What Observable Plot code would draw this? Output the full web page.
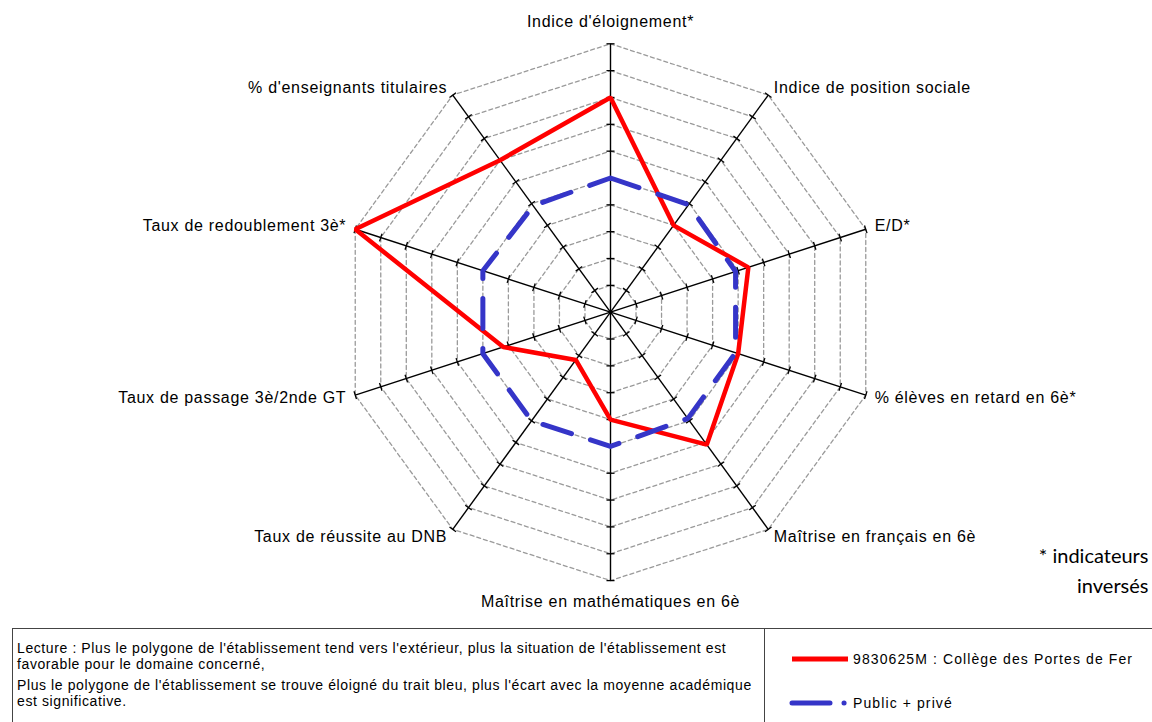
<!DOCTYPE html>
<html>
<head>
<meta charset="utf-8">
<script src="https://cdn.jsdelivr.net/npm/d3@7"></script>
<script src="https://cdn.jsdelivr.net/npm/@observablehq/plot@0.6"></script>
<style>
  html, body { margin: 0; padding: 0; background: #fff; width: 1152px; height: 722px; overflow: hidden; }
  #chart { position: absolute; left: 0; top: 0; }
  #chart text { letter-spacing: 0.7px; }
  #box { position: absolute; left: 12px; top: 628px; width: 1160px; height: 110px; border: 1.5px solid #444; display: flex; box-sizing: border-box; }
  #lecture { width: 752px; border-right: 1.5px solid #444; box-sizing: border-box; padding: 11px 0 0 4px; font-family: "Liberation Sans", Arial, sans-serif; font-size: 14px; letter-spacing: 0.6px; color: #000; white-space: nowrap; }
  #lecture div { height: 16px; line-height: 16px; }
  #lecture div.gap { margin-top: 5px; }
  #legend { flex: 1; font-family: "Liberation Sans", Arial, sans-serif; font-size: 14px; letter-spacing: 1.1px; color: #000; position: relative; white-space: nowrap; }
  .item { position: absolute; left: 24px; display: flex; align-items: center; }
  .item svg { margin-right: 2px; }
</style>
</head>
<body>
<div id="chart"></div>
<div id="box">
  <div id="lecture"></div>
  <div id="legend"></div>
</div>
<script>
// ---- data ----
const indicators = [
  "Indice d'éloignement*",
  "Indice de position sociale",
  "E/D*",
  "% élèves en retard en 6è*",
  "Maîtrise en français en 6è",
  "Maîtrise en mathématiques en 6è",
  "Taux de réussite au DNB",
  "Taux de passage 3è/2nde GT",
  "Taux de redoublement 3è*",
  "% d'enseignants titulaires"
];
const etablissement = [8.0, 4.0, 5.4, 5.0, 6.1, 4.0, 2.2, 4.2, 10.0, 7.0];
const academie = [5.0, 4.95, 4.9, 4.9, 4.9, 5.0, 5.0, 5.0, 5.0, 4.9];
const rings = [1, 2, 3, 4, 5, 6, 7, 8, 9, 10];
const seriesNames = ["9830625M : Collège des Portes de Fer", "Public + privé"];
const lectureLines = [
  "Lecture : Plus le polygone de l'établissement tend vers l'extérieur, plus la situation de l'établissement est",
  "favorable pour le domaine  concerné,",
  "Plus le polygone de l'établissement se trouve éloigné du trait bleu, plus l'écart avec la moyenne académique",
  "est significative."
];
const noteText = "* indicateurs\ninversés";

// ---- polar helpers ----
const n = indicators.length;
const ang = i => i * 2 * Math.PI / n;
const px = (i, r) => r * Math.sin(ang(i));
const py = (i, r) => r * Math.cos(ang(i));

const ringData = rings.flatMap(k => indicators.map((_, i) => ({k, x: px(i, k), y: py(i, k)})));
const axisData = indicators.map((name, i) => ({name, i}));
const tickData = indicators.flatMap((_, i) => rings.map(k => {
  const h = 0.15, c = Math.cos(ang(i)), s = Math.sin(ang(i));
  return {x1: px(i, k) - h * c, y1: py(i, k) + h * s, x2: px(i, k) + h * c, y2: py(i, k) - h * s};
}));
const etabData = etablissement.map((v, i) => ({x: px(i, v), y: py(i, v)}));
const acadData = academie.map((v, i) => ({x: px(i, v), y: py(i, v)}));
const labelR = i => (i % 5 === 0 ? 10.8 : 10.35);
const labelData = axisData.map(d => ({...d, x: px(d.i, labelR(d.i)), y: py(d.i, labelR(d.i))}));

const font = {fontFamily: "Liberation Sans, Arial, sans-serif", fontSize: 16, fill: "#000"};

const chart = Plot.plot({
  width: 1152,
  height: 625,
  margin: 0,
  x: {domain: [-10, 10], range: [610 - 268.4, 610 + 268.4], axis: null},
  y: {domain: [-10, 10], range: [311.7 + 268.4, 311.7 - 268.4], axis: null},
  style: {background: "#fff"},
  marks: [
    Plot.line(ringData, {x: "x", y: "y", z: "k", curve: "linear-closed", stroke: "#9a9a9a", strokeWidth: 1.3, strokeDasharray: "4,3"}),
    Plot.link(axisData, {x1: () => 0, y1: () => 0, x2: d => px(d.i, 10), y2: d => py(d.i, 10), stroke: "#000", strokeWidth: 1.4}),
    Plot.link(tickData, {x1: "x1", y1: "y1", x2: "x2", y2: "y2", stroke: "#000", strokeWidth: 1.3}),
    Plot.line(etabData, {x: "x", y: "y", curve: "linear-closed", stroke: "#ff0000", strokeWidth: 4.5, strokeLinejoin: "miter"}),
    Plot.line(acadData, {x: "x", y: "y", curve: "linear-closed", stroke: "#3535c8", strokeWidth: 5, strokeDasharray: "30,20", strokeLinecap: "round"}),
    Plot.text(labelData.filter(d => d.i % 5 === 0), {x: "x", y: "y", text: "name", textAnchor: "middle", ...font}),
    Plot.text(labelData.filter(d => d.i > 0 && d.i < 5), {x: "x", y: "y", text: "name", textAnchor: "start", ...font}),
    Plot.text(labelData.filter(d => d.i > 5), {x: "x", y: "y", text: "name", textAnchor: "end", ...font}),
    Plot.text([noteText], {frameAnchor: "bottom-right", text: d => d, textAnchor: "end", lineAnchor: "bottom", lineHeight: 1.5, dx: -4, dy: -33, fontFamily: "Lato, Open Sans, sans-serif", fontSize: 20, fill: "#000"})
  ]
});
document.getElementById("chart").appendChild(chart);
chart.querySelectorAll("text").forEach(t => { if (t.textContent.startsWith("*") || t.textContent === "inversés") t.style.letterSpacing = "0px"; });

// ---- bottom box ----
const lec = document.getElementById("lecture");
lectureLines.forEach((t, i) => { const p = document.createElement("div"); if (i === 2) p.className = "gap"; p.textContent = t; lec.appendChild(p); });

const leg = document.getElementById("legend");
const mk = (top, color, dash, label) => {
  const div = document.createElement("div");
  div.className = "item";
  div.style.top = top + "px";
  const svg = d3.create("svg").attr("width", 62).attr("height", 12);
  svg.append("line").attr("x1", 3).attr("x2", dash ? 58 : 59).attr("y1", 6).attr("y2", 6)
    .attr("stroke", color).attr("stroke-width", 5).attr("stroke-linecap", dash ? "round" : "butt")
    .attr("stroke-dasharray", dash || null);
  div.appendChild(svg.node());
  const span = document.createElement("span");
  span.textContent = label;
  div.appendChild(span);
  leg.appendChild(div);
};
mk(22, "#ff0000", null, seriesNames[0]);
mk(66, "#3535c8", "38,14,0.1,100", seriesNames[1]);
</script>
</body>
</html>
